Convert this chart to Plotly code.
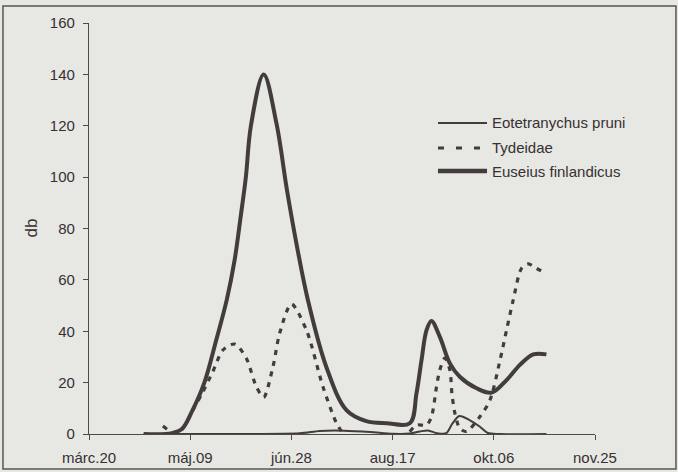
import plotly.graph_objects as go

# Days counted from márc.20; tick labels every 50 days
tick_days = [0, 50, 100, 150, 200, 250]
tick_labels = ["márc.20", "máj.09", "jún.28", "aug.17", "okt.06", "nov.25"]

# Eotetranychus pruni (thin solid)
eot_days = [27, 60, 104, 114, 126, 139, 150, 158.5, 163.5, 167.5, 172, 176.5,
            179.5, 183, 188, 193, 197, 203, 226]
eot_vals = [0, 0, 0.3, 1.2, 1.3, 0.8, 0.1, 0.2, 1.0, 1.4, 0.3, 0.3,
            4.0, 7.0, 5.4, 2.9, 0.4, 0, 0]

# Tydeidae (dashed)
tyd_days = [36.5, 39, 41.3, 45.6, 51.3, 56, 61.2, 66.2, 72, 77.7, 82.7, 86.3,
            90.9, 94.2, 100, 107.4, 115.6, 122.3, 125.5, None,
            158.5, 161.8, 166.8, 169.2, 171.7, 173.3, 175.8, 178.3, 179.3,
            180.8, 183.2, 186.5, 193.1, 198.1, 203.1, 206.3, 209.6, 213.7,
            217, 221, 225.3]
tyd_vals = [3.1, 1.6, 0.5, 1.5, 9.3, 16, 24.3, 32.7, 35, 29.5, 18.4, 14.3,
            26.2, 39.2, 50.6, 40.5, 18.4, 4.2, 0.3, None,
            0.9, 3.5, 3.5, 6.7, 18.4, 24.9, 29.5, 24.9, 15.8,
            8, 2.2, 1, 6.7, 13.2, 28.8, 40.5, 52.2, 64.5,
            66.2, 64.5, 62.8]

# Euseius finlandicus (thick solid)
eus_days = [27, 41, 46, 51, 57, 63, 68, 72, 75, 77.5, 80, 86.3,
            92.6, 97.8, 103, 108.2, 117.3, 127.2, 137, 147,
            158.5, 161.8, 164.3, 166.8, 169.2, 173.3, 178.3, 183.2, 191.5,
            198.9, 206.3, 212.9, 219.5, 226]
eus_vals = [0, 0.3, 2, 9, 20, 37, 52, 68, 85, 100, 120, 140,
            121, 95, 72, 52, 26, 9.3, 5, 4.2,
            4.2, 15.8, 28.8, 40.5, 44, 37.9, 27.5, 22.3, 17.8,
            16.1, 21, 26.9, 31, 31]

INK = "#433c3c"
TEXT = "#363131"
BG = "#e7e7e4"
FONT = "Liberation Sans, Arial, sans-serif"

fig = go.Figure()
fig.add_trace(go.Scatter(
    x=eot_days, y=eot_vals, mode="lines", name="Eotetranychus pruni",
    line=dict(color=INK, width=2, shape="spline", smoothing=0.8),
    cliponaxis=False, showlegend=False))
fig.add_trace(go.Scatter(
    x=tyd_days, y=tyd_vals, mode="lines", name="Tydeidae",
    line=dict(color=INK, width=3.2, dash="5px,6px", shape="spline", smoothing=0.8),
    connectgaps=False, cliponaxis=False, showlegend=False))
fig.add_trace(go.Scatter(
    x=eus_days, y=eus_vals, mode="lines", name="Euseius finlandicus",
    line=dict(color=INK, width=4, shape="spline", smoothing=1.0),
    cliponaxis=False, showlegend=False))

# Legend drawn as line samples with labels
legend_items = [
    ("Eotetranychus pruni", 2, "solid", 0.7567),
    ("Tydeidae", 3.2, "6px,12px", 0.6959),
    ("Euseius finlandicus", 4.5, "solid", 0.6399),
]
shapes = []
annotations = []
for name, w, dash, ly in legend_items:
    shapes.append(dict(type="line", xref="paper", yref="paper",
                       x0=0.6897, x1=0.7866, y0=ly, y1=ly,
                       line=dict(color=INK, width=w, dash=dash)))
    annotations.append(dict(xref="paper", yref="paper", x=0.7925, y=ly,
                            text=name, showarrow=False, xanchor="left",
                            yanchor="middle",
                            font=dict(family=FONT, size=15, color=TEXT)))

# Outer frame
shapes.append(dict(type="rect", xref="paper", yref="paper",
                   x0=-0.170, x1=1.160, y0=-0.0852, y1=1.0414,
                   line=dict(color="#5a5555", width=1.5)))

# Y axis title
annotations.append(dict(xref="paper", yref="paper", x=-0.1146, y=0.5,
                        xanchor="center", yanchor="middle",
                        text="db", showarrow=False, textangle=-90,
                        font=dict(family=FONT, size=17, color=TEXT)))

fig.update_layout(
    width=678, height=472,
    margin=dict(l=89, r=83, t=23, b=38, autoexpand=False),
    paper_bgcolor=BG, plot_bgcolor=BG,
    font=dict(family=FONT, size=15, color=TEXT),
    shapes=shapes, annotations=annotations,
    xaxis=dict(range=[0, 250], tickvals=tick_days, ticktext=tick_labels,
               showgrid=False, zeroline=False, showline=True, automargin=False,
               linecolor="#4f4949", linewidth=1.3,
               ticks="outside", ticklen=5, tickcolor="#4f4949", tickwidth=1.3,
               ticklabelstandoff=5,
               tickfont=dict(family=FONT, size=15, color=TEXT)),
    yaxis=dict(range=[0, 160], tickvals=[0, 20, 40, 60, 80, 100, 120, 140, 160],
               showgrid=False, zeroline=False, showline=True, automargin=False,
               linecolor="#4f4949", linewidth=1.3,
               ticks="outside", ticklen=5, tickcolor="#4f4949", tickwidth=1.3,
               ticklabelstandoff=5,
               tickfont=dict(family=FONT, size=15, color=TEXT)),
)

fig.write_html("out.html")
